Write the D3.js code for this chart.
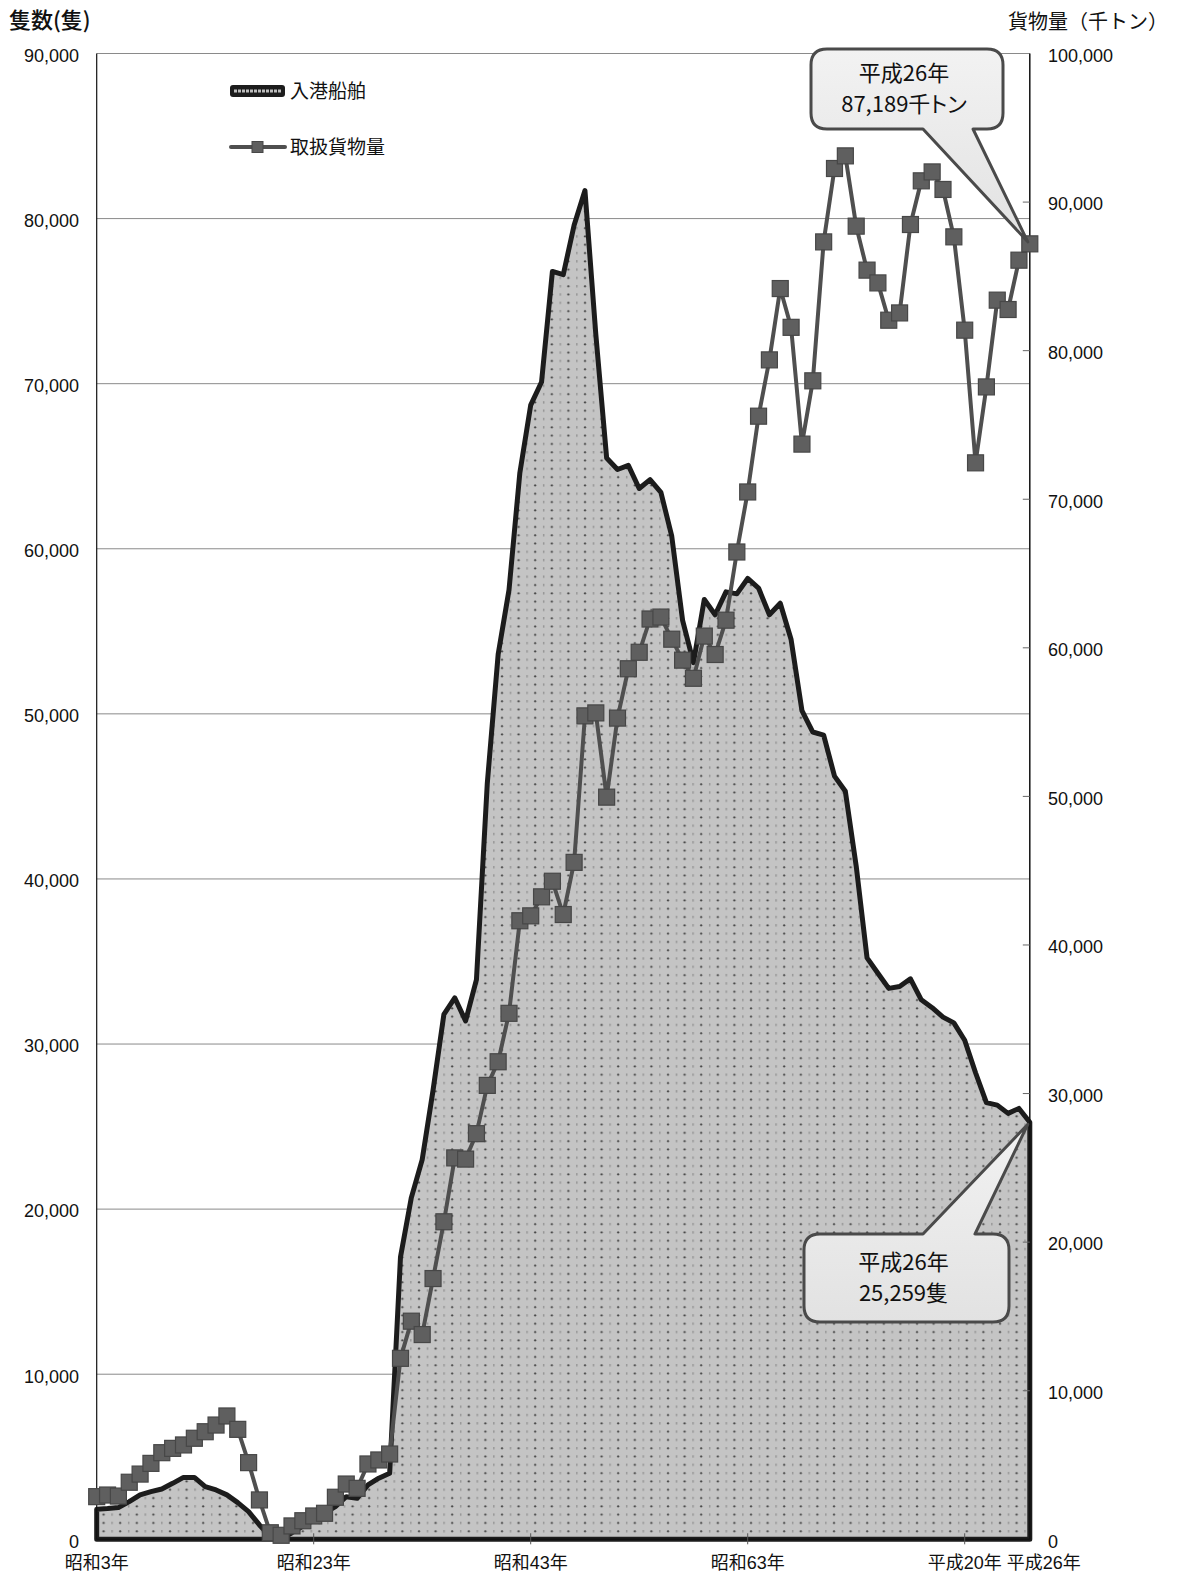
<!DOCTYPE html>
<html lang="ja">
<head>
  <meta charset="UTF-8">
  <title>入港船舶と取扱貨物量の推移</title>
  <script src="https://d3js.org/d3.v7.min.js"></script>
  <style>
    body { margin: 0; background: #fff; }
    svg text {
      font-family: "Noto Sans CJK JP", "Noto Sans", sans-serif;
      fill: #111;
    }
    svg text.num {
      font-family: "Liberation Sans", "Noto Sans CJK JP", sans-serif;
    }
    .grid line { stroke: #8a8a8a; stroke-width: 1px; }
    .palt { font-feature-settings: "palt"; }
  </style>
</head>
<body>
  <svg></svg>
  <script>
    // 昭和3年(1928) ～ 平成26年(2014)
    const years = d3.range(1928, 2015);

    // 入港船舶（隻）
    const ships = [
      1820, 1860, 1920, 2280, 2690, 2890, 3050, 3390, 3750, 3750,
      3190, 2990, 2690, 2220, 1680, 870, 160, 50, 400, 800,
      1170, 1590, 1980, 2580, 2480, 3290, 3700, 4000, 17100, 20700,
      23000, 27200, 31800, 32800, 31400, 33900, 45800, 53600, 57500, 64600,
      68700, 70100, 76800, 76600, 79600, 81700, 73000, 65500, 64800, 65050,
      63650, 64190, 63420, 60760, 55660, 53100, 56930, 56000, 57390, 57270,
      58200, 57620, 56000, 56700, 54500, 50200, 48900, 48710, 46230, 45310,
      40780, 35220, 34290, 33370, 33480, 33950, 32680, 32200, 31630, 31280,
      30230, 28260, 26450, 26300, 25800, 26100, 25259
    ];

    // 取扱貨物量（千トン）
    const cargo = [
      2870, 2980, 2910, 3840, 4390, 5110, 5830, 6120, 6350, 6800,
      7240, 7690, 8300, 7400, 5160, 2650, 440, 270, 900, 1250,
      1570, 1750, 2830, 3720, 3430, 5070, 5340, 5740, 12180, 14680,
      13780, 17550, 21370, 25670, 25590, 27300, 30550, 32140, 35400, 41630,
      41960, 43240, 44290, 42050, 45560, 55420, 55620, 49950, 55270, 58590,
      59700, 61940, 62070, 60580, 59170, 57950, 60790, 59550, 61860, 66450,
      70490, 75590, 79380, 84180, 81570, 73710, 77970, 87320, 92260, 93110,
      88380, 85420, 84560, 82050, 82540, 88490, 91430, 92030, 90850, 87660,
      81380, 72450, 77560, 83400, 82770, 86090, 87189
    ];

    const labelYears = [1928, 1948, 1968, 1988, 2008, 2014];
    const labelTexts = ["昭和3年", "昭和23年", "昭和43年", "昭和63年", "平成20年", "平成26年"];
    const tickYears = [1948, 1968, 1988, 2008];

    const leftTicks = d3.range(0, 90001, 10000);
    const rightTicks = d3.range(0, 100001, 10000);

    const seriesNames = ["入港船舶", "取扱貨物量"];
    const lastYear = years[years.length - 1];
    const lastShips = ships[ships.length - 1];
    const lastCargo = cargo[cargo.length - 1];

    const width = 1180, height = 1576;
    const plotLeft = 96.7, plotRight = 1029.8, plotTop = 53.5, plotBottom = 1539.3;

    const svg = d3.select("svg")
        .attr("width", width)
        .attr("height", height);

    const x = d3.scaleLinear().domain([1928, 2014]).range([plotLeft, plotRight]);
    const yL = d3.scaleLinear().domain([0, 90000]).range([plotBottom, plotTop]);
    const yR = d3.scaleLinear().domain([0, 100000]).range([plotBottom, plotTop]);
    const fmt = d3.format(",");

    // dotted fill like the spreadsheet pattern
    const defs = svg.append("defs");
    const pat = defs.append("pattern")
        .attr("id", "dots")
        .attr("patternUnits", "userSpaceOnUse")
        .attr("width", 16.6).attr("height", 8.3);
    pat.append("rect").attr("width", 16.6).attr("height", 8.3).attr("fill", "#c4c4c4");
    pat.append("circle").attr("cx", 4).attr("cy", 4).attr("r", 1.1).attr("fill", "#474747");
    pat.append("rect").attr("x", 12.1).attr("y", 2.8).attr("width", 0.9).attr("height", 2.4).attr("fill", "#777");

    const grad = defs.append("linearGradient")
        .attr("id", "callout").attr("x1", 0).attr("y1", 0).attr("x2", 0).attr("y2", 1);
    grad.append("stop").attr("offset", "0%").attr("stop-color", "#f2f2f2");
    grad.append("stop").attr("offset", "100%").attr("stop-color", "#e2e2e2");

    // gridlines
    svg.append("g").attr("class", "grid")
      .selectAll("line")
      .data(leftTicks.filter(d => d > 0))
      .join("line")
        .attr("x1", plotLeft).attr("x2", plotRight)
        .attr("y1", d => yL(d)).attr("y2", d => yL(d));

    // ships area
    const area = d3.area()
        .x((d, i) => x(years[i]))
        .y0(yL(0))
        .y1(d => yL(d));

    svg.append("path")
        .datum(ships)
        .attr("d", area)
        .attr("fill", "url(#dots)")
        .attr("stroke", "#1c1c1c")
        .attr("stroke-width", 5)
        .attr("stroke-linejoin", "round");

    // axes
    svg.append("line")
        .attr("x1", plotLeft).attr("x2", plotLeft).attr("y1", plotTop).attr("y2", plotBottom)
        .attr("stroke", "#111").attr("stroke-width", 1.2);
    svg.append("line")
        .attr("x1", plotRight).attr("x2", plotRight).attr("y1", plotTop).attr("y2", plotBottom)
        .attr("stroke", "#111").attr("stroke-width", 1.5);
    svg.append("line")
        .attr("x1", plotLeft).attr("x2", plotRight).attr("y1", plotBottom).attr("y2", plotBottom)
        .attr("stroke", "#111").attr("stroke-width", 1.5);

    svg.append("g")
      .selectAll("line")
      .data(rightTicks.filter(d => d > 0 && d < 100000))
      .join("line")
        .attr("x1", plotRight - 7).attr("x2", plotRight)
        .attr("y1", d => yR(d)).attr("y2", d => yR(d))
        .attr("stroke", "#666").attr("stroke-width", 1);

    svg.append("g")
      .selectAll("line")
      .data(tickYears)
      .join("line")
        .attr("x1", d => x(d)).attr("x2", d => x(d))
        .attr("y1", plotBottom - 6).attr("y2", plotBottom + 5)
        .attr("stroke", "#555").attr("stroke-width", 1);

    // cargo line + markers
    const line = d3.line()
        .x((d, i) => x(years[i]))
        .y(d => yR(d));

    svg.append("path")
        .datum(cargo)
        .attr("d", line)
        .attr("fill", "none")
        .attr("stroke", "#4f4f4f")
        .attr("stroke-width", 4)
        .attr("stroke-linejoin", "round");

    svg.append("g")
      .selectAll("rect")
      .data(cargo)
      .join("rect")
        .attr("x", (d, i) => x(years[i]) - 8)
        .attr("y", d => yR(d) - 8)
        .attr("width", 16).attr("height", 16)
        .attr("fill", "#5f5f5f")
        .attr("stroke", "#474747")
        .attr("stroke-width", 1.2);

    // tick labels
    svg.append("g")
      .selectAll("text")
      .data(leftTicks)
      .join("text")
        .attr("class", "num")
        .attr("x", 79)
        .attr("y", d => yL(d) + 2)
        .attr("dy", "0.35em")
        .attr("text-anchor", "end")
        .attr("font-size", 18)
        .text(d => fmt(d));

    svg.append("g")
      .selectAll("text")
      .data(rightTicks)
      .join("text")
        .attr("class", "num")
        .attr("x", 1048)
        .attr("y", d => yR(d) + 2)
        .attr("dy", "0.35em")
        .attr("text-anchor", "start")
        .attr("font-size", 18)
        .text(d => fmt(d));

    svg.append("g")
      .selectAll("text")
      .data(labelYears)
      .join("text")
        .attr("class", "num")
        .attr("x", (d, i) => x(d) + (i === labelYears.length - 1 ? 14 : 0))
        .attr("y", 1569)
        .attr("text-anchor", "middle")
        .attr("font-size", 18)
        .text((d, i) => labelTexts[i]);

    // axis titles
    svg.append("text")
        .attr("x", 9).attr("y", 20).attr("dy", "0.35em")
        .attr("font-size", 22)
        .attr("font-weight", 500)
        .text("隻数(隻)");
    svg.append("text")
        .attr("x", 1168).attr("y", 22).attr("dy", "0.35em")
        .attr("text-anchor", "end")
        .attr("font-size", 20)
        .text("貨物量（千トン）");

    // legend
    const lg = svg.append("g");
    lg.append("rect")
        .attr("x", 230).attr("y", 85).attr("width", 55).attr("height", 12).attr("rx", 3)
        .attr("fill", "#1c1c1c");
    lg.append("line")
        .attr("x1", 234).attr("x2", 281).attr("y1", 91).attr("y2", 91)
        .attr("stroke", "#bdbdbd").attr("stroke-width", 3).attr("stroke-dasharray", "3,1");
    lg.append("text")
        .attr("x", 290).attr("y", 91).attr("dy", "0.35em")
        .attr("font-size", 19).text(seriesNames[0]);
    lg.append("line")
        .attr("x1", 231).attr("x2", 285).attr("y1", 147).attr("y2", 147)
        .attr("stroke", "#4f4f4f").attr("stroke-width", 4).attr("stroke-linecap", "round");
    lg.append("rect")
        .attr("x", 252).attr("y", 141.5).attr("width", 11).attr("height", 11)
        .attr("fill", "#5f5f5f").attr("stroke", "#474747");
    lg.append("text")
        .attr("x", 290).attr("y", 147).attr("dy", "0.35em")
        .attr("font-size", 19).text(seriesNames[1]);

    // callouts
    function callout(box, tail, tip, lines, tailOnTop) {
      const [x0, y0, x1, y1] = box, r = 16;
      let p;
      if (tailOnTop) {
        p = `M${x0 + r},${y0} H${tail[0]} L${tip[0]},${tip[1]} L${tail[1]},${y0} H${x1 - r}
             Q${x1},${y0} ${x1},${y0 + r} V${y1 - r} Q${x1},${y1} ${x1 - r},${y1}
             H${x0 + r} Q${x0},${y1} ${x0},${y1 - r} V${y0 + r} Q${x0},${y0} ${x0 + r},${y0} Z`;
      } else {
        p = `M${x0 + r},${y0} H${x1 - r} Q${x1},${y0} ${x1},${y0 + r} V${y1 - r}
             Q${x1},${y1} ${x1 - r},${y1} H${tail[1]} L${tip[0]},${tip[1]} L${tail[0]},${y1}
             H${x0 + r} Q${x0},${y1} ${x0},${y1 - r} V${y0 + r} Q${x0},${y0} ${x0 + r},${y0} Z`;
      }
      const g = svg.append("g");
      g.append("path")
          .attr("d", p)
          .attr("fill", "url(#callout)")
          .attr("stroke", "#4a4a4a")
          .attr("stroke-width", 3)
          .attr("stroke-linejoin", "round");
      const cx = (x0 + x1) / 2 - 3;
      const cy = (y0 + y1) / 2;
      g.selectAll("text")
        .data(lines)
        .join("text")
          .attr("class", "palt")
          .attr("x", cx)
          .attr("y", (d, i) => cy + (i - 0.5) * 31)
          .attr("dy", "0.35em")
          .attr("text-anchor", "middle")
          .attr("font-size", 22)
          .text(d => d);
    }

    callout([811, 49, 1003, 129], [923, 973], [x(lastYear) - 2, yR(lastCargo) - 2],
            ["平成26年", fmt(lastCargo) + "千トン"], false);
    callout([804, 1234, 1009, 1322], [923, 975], [x(lastYear) - 2, yL(lastShips) + 2],
            ["平成26年", fmt(lastShips) + "隻"], true);
  </script>
</body>
</html>
